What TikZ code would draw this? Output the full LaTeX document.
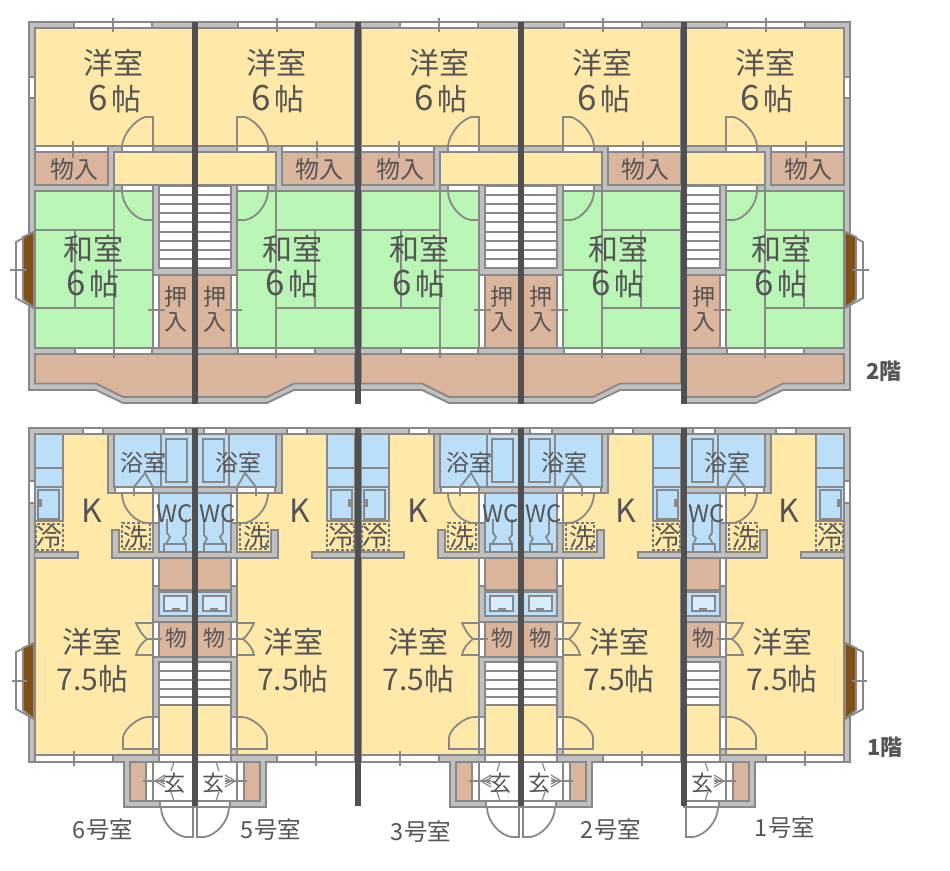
\documentclass[tikz,border=0pt]{standalone}
\usepackage{fontspec}
\setmainfont{Noto Sans CJK JP}
\definecolor{wallc}{HTML}{C0C0C0}
\definecolor{linec}{HTML}{888888}
\definecolor{yelc}{HTML}{FFE9A8}
\definecolor{grnc}{HTML}{B9F5B5}
\definecolor{brnc}{HTML}{DBB49C}
\definecolor{bluc}{HTML}{BBDFF9}
\definecolor{txtc}{HTML}{555555}
\definecolor{barc}{HTML}{505050}
\definecolor{bayc}{HTML}{7F5018}
\tikzset{
  wallbox/.style={fill=wallc,draw=linec},
  yelbox/.style={fill=yelc,draw=linec},
  grnbox/.style={fill=grnc,draw=linec},
  brnbox/.style={fill=brnc,draw=linec},
  blubox/.style={fill=bluc,draw=linec},
  whtbox/.style={fill=white,draw=linec},
  baybox/.style={fill=bayc,draw=linec},
  dashbox/.style={fill=yelc,draw=txtc!80!white,densely dashed,line width=1.3pt},
  lbl/.style={text=txtc,inner sep=0pt,outer sep=0pt,anchor=center,align=center}
}
\newcommand{\lab}[5]{%
  \ifnum\m>0 \def\lx{#1}\else \def\lx{#2}\fi
  \node[lbl] at (\lx,#3) {\fontsize{#4}{#4}\selectfont #5};}
\newcommand{\bigsix}{{\fontsize{35}{35}\selectfont 6}\hspace{3pt}帖}
% ---------- upper floor, one flat; d = distance from the stair-side party wall
\newcommand{\upperflat}{%
  \draw[wallbox] (0,22)--(\w,22)--(\w,390)--(99,390)--(72,403)--(0,403)--cycle;
  \draw[brnbox] (0,354)--(160,354)--(160,383.5)--(99,383.5)--(72,397)--(0,397)--cycle;
  \draw[yelbox] (0,28) rectangle (160,146);
  \draw[whtbox] (43,22.5) rectangle (121,28);
  \draw (82,18)--(82,32);
  \draw[yelbox] (0,152) rectangle (81,185);
  \draw[brnbox] (87,152) rectangle (160,185);
  \draw[whtbox] (87,146) rectangle (160,152);
  \draw (122,141)--(122,158);
  \draw[whtbox] (42,146) rectangle (73,152);
  \draw[whtbox] (42,185) rectangle (73,191);
  \draw[grnbox] (42,191) rectangle (160,348);
  \draw (42,152)--(42,117)--(50,117) .. controls (60,120) and (72,134) .. (73,146)--(73,152);
  \draw (73,191) .. controls (73,205) and (60,219) .. (50,220)--(42,220);
  \draw (81,185)--(81,358);
  \draw (81,230)--(160,230);
  \draw (81,308)--(160,308);
  \draw (120,230)--(120,308);
  \draw (42,270)--(81,270);
  \draw[whtbox] (0,186) rectangle (36,268);
  \foreach \ty in {195,204,213,222,232,241,250,259}{\draw (0,\ty)--(36,\ty);}
  \draw[brnbox] (0,275) rectangle (36,348);
  \draw[whtbox] (36,275) rectangle (42,348);
  \draw (30,310)--(47,310);
  \draw[whtbox] (43,348) rectangle (120,354);
  \draw (81,348)--(81,358);
  \ifnum\w>163
    \draw[whtbox] (160,77) rectangle (\w,98);
    \draw[whtbox] (161,232)--(179,242)--(179,298)--(161,308)--cycle;
    \draw[baybox] (161,232)--(172,237)--(172,299)--(161,308)--cycle;
    \draw (168,270)--(185,270);
  \fi
}
% ---------- lower floor, one flat
\newcommand{\lowerflat}{%
  \draw[wallbox] (0,428)--(\w,428)--(\w,762)--(71,762)--(71,807)--(0,807)--cycle;
  \draw[whtbox] (9,428.5) rectangle (31,434);
  \draw[whtbox] (92,428.5) rectangle (112,434);
  \draw[yelbox] (42,434) rectangle (160,755);
  \draw[whtbox] (82,755.5) rectangle (160,762);
  \draw (121,751)--(121,766);
  % bath block
  \draw[wallbox] (0,434) rectangle (87,493);
  \draw[blubox] (0,434) rectangle (81,487);
  \draw (34,434)--(34,487);
  \draw (8,439) rectangle (29,482);
  \draw[whtbox] (42,487) rectangle (80,493);
  \draw (42,496)--(42,487)--(50,473)--(61,487)--(61,496);
  % service column
  \draw[wallbox] (0,493) rectangle (42,755);
  \fill[wallc] (41,553) rectangle (77,557);
  \fill[wallc] (76,531) rectangle (83,557);
  \draw (42,552)--(76,552)--(76,530)--(83,530)--(83,558)--(42,558);
  \draw[wallbox] (160,552)--(117,552)--(117,558)--(160,558);
  \draw[dashbox] (45,523) rectangle (73,549);
  % WC
  \draw[blubox] (0,493) rectangle (36,552);
  \draw[whtbox] (36,493) rectangle (42,523);
  \draw (9,519)--(9,535)--(12,538.5)--(9,544);
  \draw (28,519)--(28,533)--(25,537)--(29,544);
  \draw (9,544) rectangle (31,552);
  \draw (73,493) .. controls (73,510) and (58,523) .. (48,523)--(42,523);
  % closet, wash stand
  \draw[brnbox] (0,558) rectangle (36,590);
  \draw[whtbox] (36,558) rectangle (42,586);
  \draw[blubox] (0,592) rectangle (36,616);
  \draw[fill=bluc!60!white] (8,596) rectangle (31,611);
  \fill[linec] (15,608) rectangle (23,611);
  \draw[brnbox] (0,622) rectangle (36,657);
  \draw[whtbox] (36,622) rectangle (42,657);
  \draw (33,639)--(48,639);
  \draw (42,623)--(59,623) .. controls (56,630) and (52,636) .. (48,639) .. controls (52,642) and (58,648) .. (59,655)--(42,655);
  % stairs, hall
  \draw[whtbox] (0,662) rectangle (36,705);
  \foreach \ty in {671,680,689,697}{\draw (0,\ty)--(36,\ty);}
  \draw[yelbox] (0,705) rectangle (36,755);
  \draw[whtbox] (36,717) rectangle (42,749);
  \draw (42,749)--(72,749)--(72,738) .. controls (72,730) and (57,717) .. (47,717)--(42,717);
  % porch
  \draw[whtbox] (0,755) rectangle (36,762);
  \draw[whtbox] (0,762) rectangle (65,801);
  \draw[brnbox] (49,762) rectangle (65,801);
  \draw (42,762)--(42,801);
  \draw[whtbox] (0,801) rectangle (35,807);
  \draw (2,807)--(2,837)--(9,837) .. controls (20,836) and (34,822) .. (34,807);
  \draw[line width=1.2pt] (21,762)--(24,771);
  \draw[line width=1.2pt] (21,801)--(24,792);
  \draw[line width=1.2pt] (30,775)--(40,781)--(30,787);
  \draw[line width=1.2pt] (30,778)--(36,781)--(30,784);
  \draw (30,781)--(52,781);
  % kitchen units
  \draw[blubox] (132,434) rectangle (160,521);
  \draw (132,468)--(160,468);
  \draw (132,487)--(160,487);
  \draw (136,490) rectangle (157,519);
  \fill[linec] (153,499) rectangle (156,507);
  \draw[dashbox] (132,524) rectangle (159,550);
  \ifnum\w>163
    \draw[whtbox] (160,481) rectangle (\w,503);
    \draw[whtbox] (161,643)--(179,652)--(179,709)--(161,719)--cycle;
    \draw[baybox] (161,643)--(172,648)--(172,710)--(161,719)--cycle;
    \draw (168,681)--(183,681);
  \fi
}
\newcommand{\upperlabels}{%
  \lab{81}{82}{63}{30}{洋室}
  \lab{83}{80}{99}{30}{\bigsix}
  \lab{124}{121}{169}{24}{物入}
  \lab{97}{102}{249}{30}{和室}
  \lab{97}{102}{284}{30}{\bigsix}
  \lab{20}{19}{297}{23}{押}
  \lab{20}{19}{322}{23}{入}
}
\newcommand{\lowerlabels}{%
  \lab{43}{52}{463}{23}{浴室}
  \lab{105}{103}{511}{32}{K}
  \lab{23}{20}{514}{24}{WC}
  \lab{60.5}{59}{537}{25}{洗}
  \lab{146}{146}{537}{26}{冷}
  \lab{19.5}{19}{638}{22}{物}
  \lab{98}{102.5}{642}{30}{洋室}
  \lab{98}{102.5}{679}{30}{7.5帖}
  \lab{18}{21}{783}{22}{玄}
}
\begin{document}
\begin{tikzpicture}[x=1pt,y=-1pt,line width=1.8pt,color=linec,line join=miter]
\fill[white] (0,0) rectangle (950,870);
\useasboundingbox (0,0) rectangle (950,870);
\foreach \s/\m/\w in {195/-1/166,195/1/163,521/-1/163,521/1/163,684/1/166}{
  \begin{scope}[shift={(\s,0)},xscale=\m]
    \upperflat
    \lowerflat
  \end{scope}
}
\foreach \bx in {195,358,521,684}{
  \fill[barc] (\bx-3.2,22) rectangle (\bx+3.2,404);
  \fill[barc] (\bx-3.2,428) rectangle (\bx+3.2,806);
}
\foreach \s/\m in {195/-1,195/1,521/-1,521/1,684/1}{
  \begin{scope}[shift={(\s,0)},xscale=\m]
    \upperlabels
    \lowerlabels
  \end{scope}
}
\node[lbl] (two) at (884,371) {\fontsize{22}{22}\selectfont\bfseries 2階};
\node[lbl] (one) at (885,747) {\fontsize{22}{22}\selectfont\bfseries 1階};
\node[lbl] (r6) at (103,830) {\fontsize{23.5}{23.5}\selectfont 6号室};
\node[lbl] (r5) at (271,830) {\fontsize{23.5}{23.5}\selectfont 5号室};
\node[lbl] (r3) at (421,832) {\fontsize{23.5}{23.5}\selectfont 3号室};
\node[lbl] (r2) at (611,830) {\fontsize{23.5}{23.5}\selectfont 2号室};
\node[lbl] (r1) at (785,828) {\fontsize{23.5}{23.5}\selectfont 1号室};
\end{tikzpicture}
\end{document}
